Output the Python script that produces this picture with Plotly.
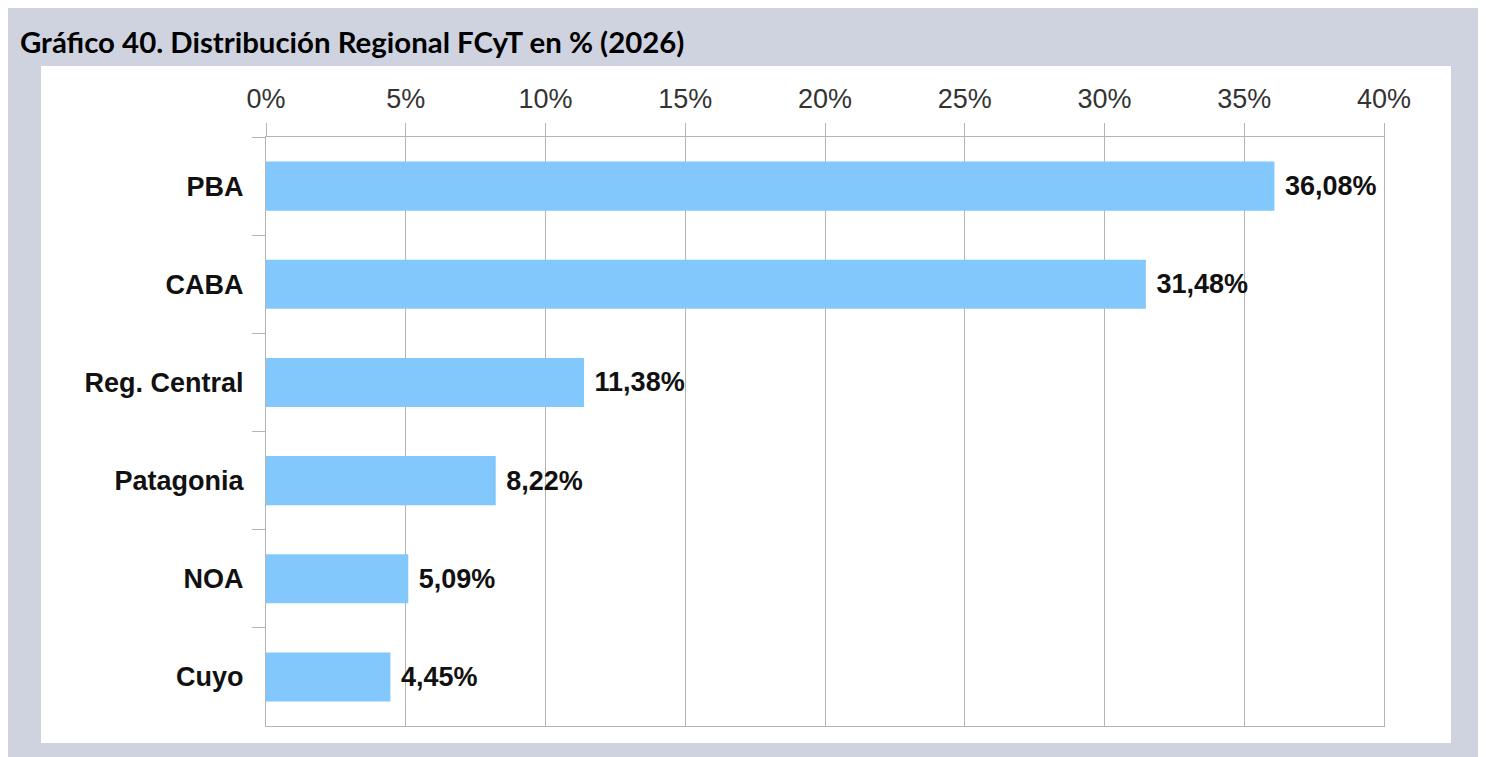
import plotly.graph_objects as go

regions = ["PBA", "CABA", "Reg. Central", "Patagonia", "NOA", "Cuyo"]
shares = [36.08, 31.48, 11.38, 8.22, 5.09, 4.45]
x_ticks = [0, 5, 10, 15, 20, 25, 30, 35, 40]
x_tick_labels = [f"{v}%" for v in x_ticks]

bar_color = "#82C8FC"
grid_color = "#B4B4B4"
bg_color = "#CFD3DF"

# the page puts the figure 8px in from the top-left corner
off = 8
fig_w, fig_h = 1486 - off, 757 - off
left, right, top, bottom = 266 - off, 1384 - off, 137 - off, 726 - off
plot_w, plot_h = right - left, bottom - top

fig = go.Figure(
    go.Bar(
        x=shares,
        y=regions,
        orientation="h",
        marker=dict(color=bar_color, line=dict(width=0)),
        width=0.5,
        texttemplate=" %{x:.2f}%",
        textposition="outside",
        textfont=dict(family="Liberation Sans", size=27, color="#111111", weight="bold"),
        constraintext="none",
        cliponaxis=False,
    )
)

# white panel behind the chart
fig.add_shape(
    type="rect",
    xref="paper",
    yref="paper",
    x0=(41 - off - left) / plot_w,
    x1=(1451 - off - left) / plot_w,
    y0=(bottom - (743 - off)) / plot_h,
    y1=(bottom - (66 - off)) / plot_h,
    fillcolor="white",
    line=dict(width=0),
    layer="below",
)

fig.update_layout(
    width=fig_w,
    height=fig_h,
    margin=dict(l=left, r=fig_w - right, t=top, b=fig_h - bottom),
    paper_bgcolor=bg_color,
    plot_bgcolor="white",
    separators=",.",
    showlegend=False,
    title=dict(
        text="<b>Gráfico 40. Distribución Regional FCyT en % (2026)</b>",
        font=dict(family="Lato", size=29.4, color="#000000"),
        xref="container",
        yref="container",
        x=(20 - off) / fig_w,
        xanchor="left",
        y=(fig_h - (43 - off)) / fig_h,
        yanchor="middle",
    ),
    xaxis=dict(
        side="top",
        range=[0, 40],
        tickmode="array",
        tickvals=x_ticks,
        ticktext=x_tick_labels,
        showgrid=True,
        gridcolor=grid_color,
        gridwidth=1,
        showline=True,
        linecolor=grid_color,
        linewidth=1,
        mirror=True,
        ticks="outside",
        ticklen=13,
        tickcolor=grid_color,
        ticklabelstandoff=4,
        zeroline=False,
        tickfont=dict(family="Liberation Sans", size=27, color="#333333"),
    ),
    yaxis=dict(
        categoryorder="array",
        categoryarray=regions,
        autorange="reversed",
        showline=True,
        linecolor=grid_color,
        linewidth=1,
        mirror=True,
        ticks="outside",
        tickson="boundaries",
        ticklen=13,
        tickcolor=grid_color,
        ticklabelstandoff=16,
        showgrid=False,
        tickfont=dict(family="Liberation Sans", size=27, color="#111111", weight="bold"),
    ),
)

fig.write_html("out.html")
